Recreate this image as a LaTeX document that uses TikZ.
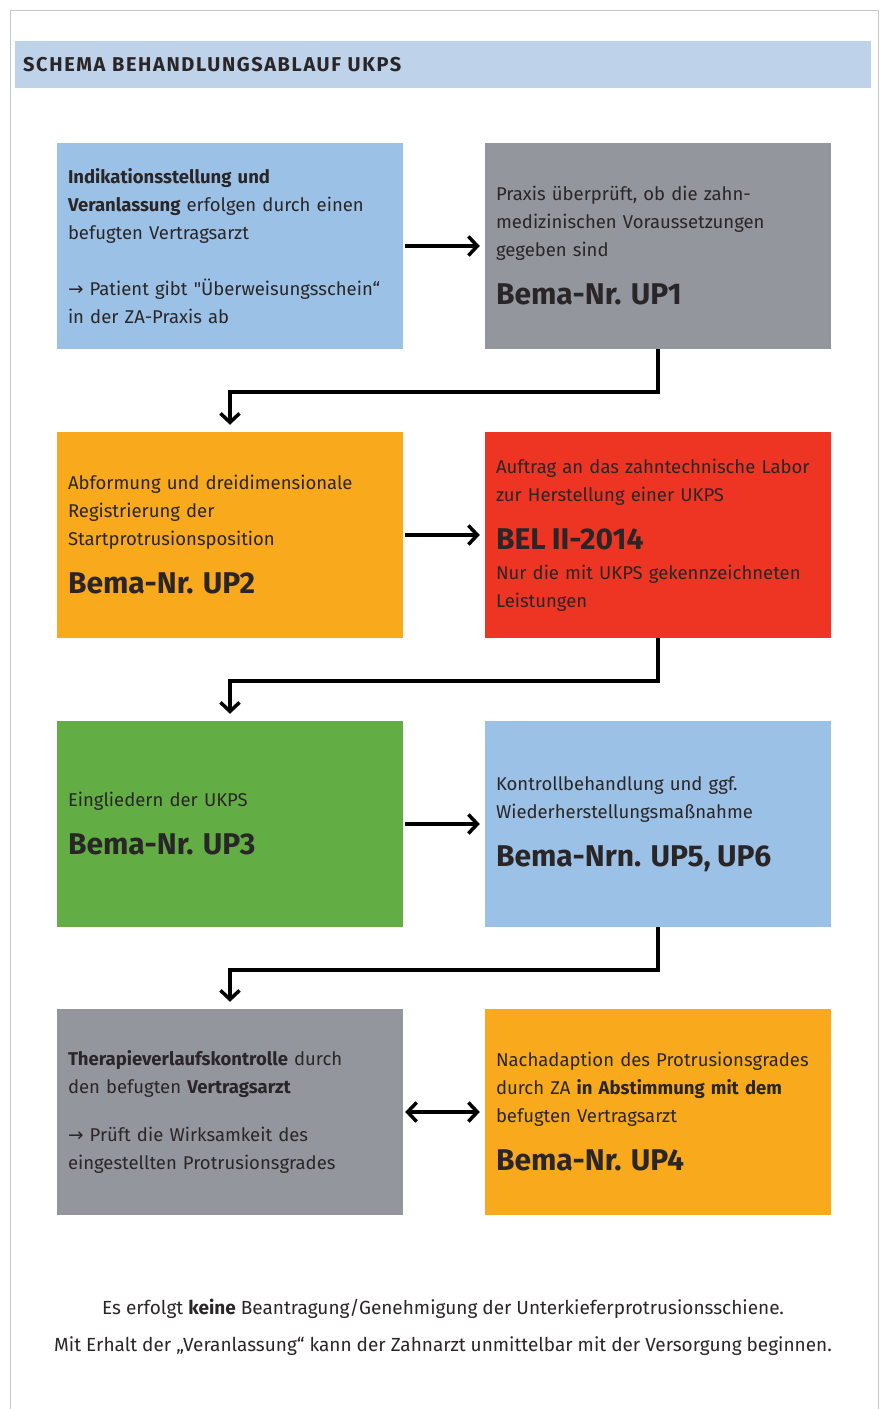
\documentclass[tikz,border=0pt]{standalone}
\usepackage{fontspec}
\setmainfont{Fira Sans}
\newfontfamily\firaplain{Fira Sans}[Ligatures=TeXOff]
\newfontfamily\symfont{DejaVu Sans}
\usetikzlibrary{arrows.meta}

\definecolor{kopfblau}{HTML}{BED2EA}
\definecolor{hellblau}{HTML}{9BC2E6}
\definecolor{grau}{HTML}{94969E}
\definecolor{gelborange}{HTML}{F9A91C}
\definecolor{rot}{HTML}{EE3524}
\definecolor{gruen}{HTML}{62AE44}
\definecolor{schrift}{HTML}{2A2627}
\definecolor{rahmen}{HTML}{C6C6C6}

\newcommand{\pfeilzeichen}{{\symfont →}}
\newcommand{\geradeanf}{{\firaplain\char"22}}
\newcommand{\bemanr}[1]{\par\vspace{16pt}{\fontsize{30}{32}\selectfont\bfseries #1\par}}

\tikzset{
  kasten/.style={minimum width=346pt, minimum height=206pt, text width=324pt,
    inner xsep=11pt, inner ysep=0pt, align=left, text=schrift,
    font=\fontsize{18.5}{28}\selectfont},
  pfeil/.style={line width=3.5pt, -{Straight Barb[length=9pt,width=19pt]}},
  hinweis/.style={anchor=base, text=schrift, font=\fontsize{19}{20}\selectfont}
}

\begin{document}
\begin{tikzpicture}[x=1pt,y=-1pt]
\useasboundingbox (0,0) rectangle (884,1409);
\draw[rahmen, line width=1pt] (10,1409) -- (10,10) -- (878,10) -- (878,1409);

% Kopfzeile
\node[fill=kopfblau, anchor=north west, minimum width=856pt, minimum height=47pt,
  text width=840pt, inner xsep=8pt, align=left, text=schrift,
  font=\fontsize{20}{21}\selectfont\bfseries\addfontfeature{LetterSpace=8}] (titel) at (15,41)
  {SCHEMA BEHANDLUNGSABLAUF UKPS};

% Zeile 1
\node[kasten, fill=hellblau] (indik) at (230,246) {\textbf{Indikationsstellung und}\\
  \textbf{Veranlassung} erfolgen durch einen\\
  befugten Vertragsarzt\\[28pt]
  \pfeilzeichen{} Patient gibt \geradeanf Überweisungsschein“\\
  in der ZA-Praxis ab};
\node[kasten, fill=grau] (up1) at (658,246) {Praxis überprüft, ob die zahn-\\
  medizinischen Voraussetzungen\\
  gegeben sind
  \bemanr{Bema-Nr. UP1}};

% Zeile 2
\node[kasten, fill=gelborange] (up2) at (230,535) {Abformung und dreidimensionale\\
  Registrierung der\\
  Startprotrusionsposition
  \bemanr{Bema-Nr. UP2}};
\node[kasten, fill=rot] (bel) at (658,535) {Auftrag an das zahntechnische Labor\\
  zur Herstellung einer UKPS
  \bemanr{BEL II-2014}\vspace{2pt}
  Nur die mit UKPS gekennzeichneten\\
  Leistungen};

% Zeile 3
\node[kasten, fill=gruen] (up3) at (230,824) {Eingliedern der UKPS
  \bemanr{Bema-Nr. UP3}};
\node[kasten, fill=hellblau] (up56) at (658,824) {Kontrollbehandlung und ggf.\\
  Wiederherstellungsmaßnahme
  \bemanr{Bema-Nrn. UP5, UP6}};

% Zeile 4
\node[kasten, fill=grau] (kontrolle) at (230,1112) {\textbf{Therapieverlaufskontrolle} durch\\
  den befugten \textbf{Vertragsarzt}\par\vspace{20pt}
  \pfeilzeichen{} Prüft die Wirksamkeit des\\
  eingestellten Protrusionsgrades};
\node[kasten, fill=gelborange] (up4) at (658,1112) {Nachadaption des Protrusionsgrades\\
  durch ZA \textbf{in Abstimmung mit dem}\\
  befugten Vertragsarzt
  \bemanr{Bema-Nr. UP4}};

% Pfeile
\draw[pfeil] ([xshift=2pt]indik.east) -- ([xshift=-5pt]up1.west);
\draw[pfeil] (up1.south) -- ++(0,43) -| ([yshift=7pt]up2.north);
\draw[pfeil] ([xshift=2pt]up2.east) -- ([xshift=-5pt]bel.west);
\draw[pfeil] (bel.south) -- ++(0,43) -| ([yshift=7pt]up3.north);
\draw[pfeil] ([xshift=2pt]up3.east) -- ([xshift=-5pt]up56.west);
\draw[pfeil] (up56.south) -- ++(0,43) -| ([yshift=7pt]kontrolle.north);
\draw[pfeil, {Straight Barb[length=9pt,width=19pt]}-{Straight Barb[length=9pt,width=19pt]}]
  ([xshift=2pt]kontrolle.east) -- ([xshift=-5pt]up4.west);

% Hinweis
\node[hinweis] (hinweis1) at (443,1314) {Es erfolgt \textbf{keine} Beantragung/Genehmigung der Unterkieferprotrusionsschiene.};
\node[hinweis] (hinweis2) at (443,1351) {Mit Erhalt der „Veranlassung“ kann der Zahnarzt unmittelbar mit der Versorgung beginnen.};
\end{tikzpicture}
\end{document}
